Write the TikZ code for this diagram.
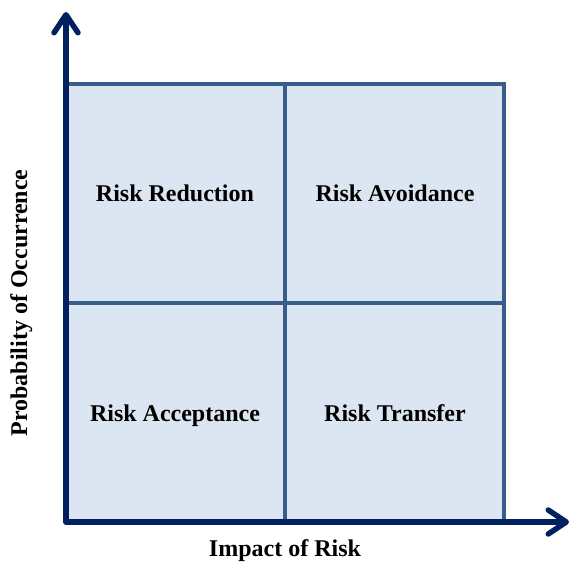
\documentclass[tikz,border=0pt]{standalone}
\usepackage{fontspec}
\setmainfont{Liberation Serif}
\usepackage{tikz}
\usetikzlibrary{arrows.meta}

\definecolor{axisblue}{HTML}{002060}
\definecolor{gridblue}{HTML}{385D8A}
\definecolor{cellfill}{HTML}{DCE6F2}

\tikzset{
  axisline/.style={draw=axisblue, line width=5.5pt, line join=round,
    {Straight Barb[length=18pt, width=24pt, line cap=round, line join=round]}-{Straight Barb[length=18pt, width=24pt, line cap=round, line join=round]}},
  gridline/.style={draw=gridblue, line width=3.5pt},
  quadlabel/.style={font=\bfseries\fontsize{24}{28}\selectfont, anchor=base},
}

\begin{document}
\begin{tikzpicture}[x=1pt, y=1pt]
  % Define the dimensions of the matrix
  \def\left{66}
  \def\right{504}
  \def\bottom{41}
  \def\top{479}
  \def\midX{285}
  \def\midY{260}

  \useasboundingbox (0,0) rectangle (571,563);

  % the four cells
  \fill[cellfill] (\left,\bottom) rectangle (\right,\top);
  \draw[gridline] (\left,\top) -- (\right,\top) -- (\right,\bottom);
  \draw[gridline] (\midX,\bottom) -- (\midX,\top);
  \draw[gridline] (\left,\midY) -- (\right,\midY);

  % quadrant names
  \node[quadlabel] (reduction)  at (175,361) {Risk Reduction};
  \node[quadlabel] (avoidance)  at (395,361) {Risk Avoidance};
  \node[quadlabel] (acceptance) at (175,141) {Risk Acceptance};
  \node[quadlabel] (transfer)   at (395,141) {Risk Transfer};

  % axes
  \coordinate (origin) at (\left,\bottom);
  \coordinate (ytip) at (\left,551);
  \coordinate (xtip) at (569,\bottom);
  \draw[axisline] (ytip) -- (origin) -- (xtip);

  \node[quadlabel] (xlabel) at (285,6) {Impact of Risk};
  \node[quadlabel, rotate=90] (ylabel) at (27,\midY) {Probability of Occurrence};

\end{tikzpicture}
\end{document}
